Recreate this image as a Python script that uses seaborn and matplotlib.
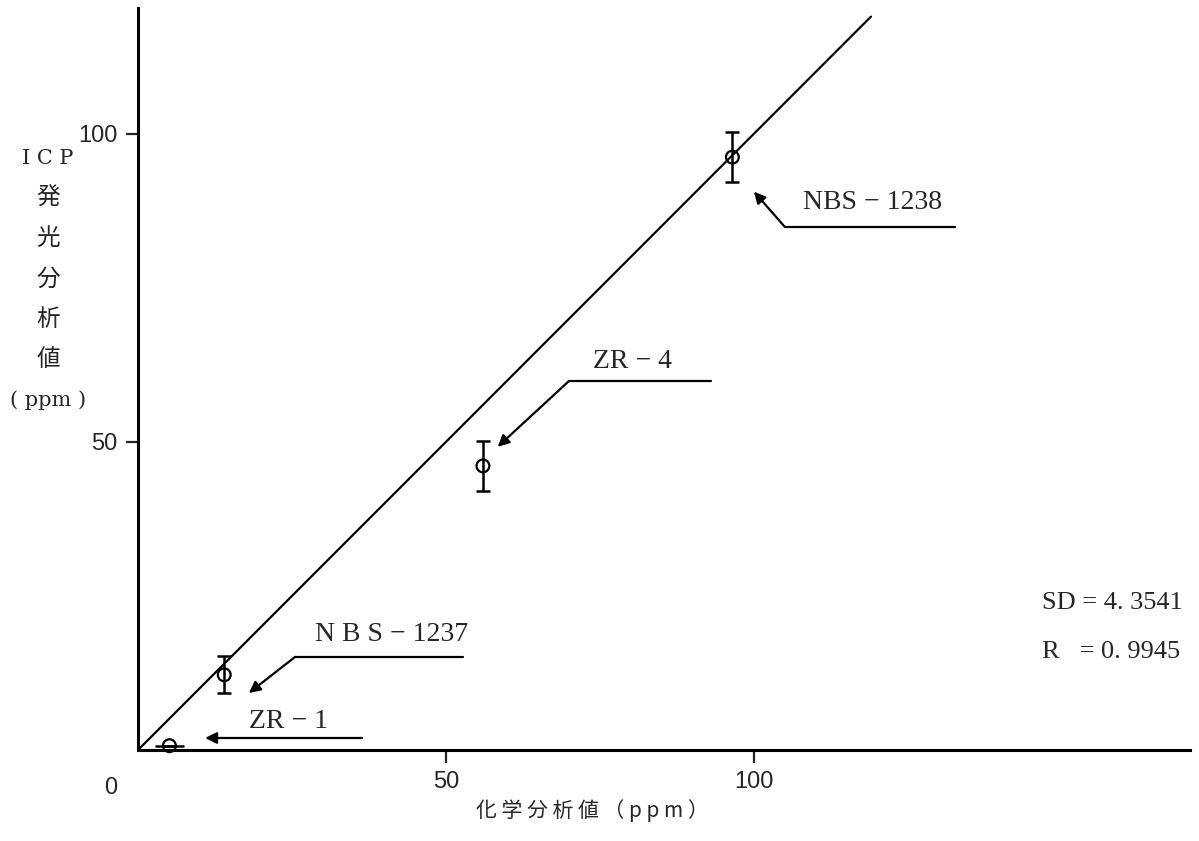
import matplotlib
matplotlib.use("Agg")
import matplotlib.pyplot as plt
import seaborn as sns
import numpy as np

# ---- data ----
samples = ["ZR − 1", "N B S − 1237", "ZR − 4", "NBS − 1238"]
chem_ppm = [5.1, 14.0, 56.0, 96.5]          # 化学分析値
icp_ppm = [0.7, 12.2, 46.1, 96.2]           # ICP発光分析値
icp_err = [0.0, 3.0, 4.1, 4.05]
chem_err = [2.3, 0.0, 0.0, 0.0]
fit_x = [0.0, 119.0]
fit_y = [0.0, 119.0]
x_ticks = [50, 100]
y_ticks = [50, 100]
stats_lines = ["SD = 4. 3541", "R   = 0. 9945"]

sns.set_style("white")
plt.rcParams["font.family"] = ["DejaVu Serif", "Noto Sans CJK JP", "DejaVu Sans"]

fig = plt.figure(figsize=(11.99, 8.41), dpi=100)
ax = fig.add_axes([0.1151, 0.1082, 0.8774, 0.8823])

sns.lineplot(x=fit_x, y=fit_y, color="black", lw=1.6, ax=ax)
ax.errorbar(chem_ppm, icp_ppm, yerr=icp_err, fmt="none", ecolor="black",
            elinewidth=1.8, capsize=4.8, capthick=1.8, clip_on=False, zorder=3)
ax.errorbar(chem_ppm, icp_ppm, xerr=chem_err, fmt="none", ecolor="black",
            elinewidth=1.8, capsize=0, clip_on=False, zorder=3)
sns.scatterplot(x=chem_ppm, y=icp_ppm, marker="o", s=85, facecolors="none",
                edgecolors="black", linewidth=1.6, ax=ax, zorder=4, clip_on=False)

ax.set_xlim(0, 170.8)
ax.set_ylim(0, 120.4)
ax.set_xticks(x_ticks)
ax.set_yticks(y_ticks)
ax.set_xticklabels([str(t) for t in x_ticks], family="Liberation Sans", fontsize=17)
ax.set_yticklabels([str(t) for t in y_ticks], family="Liberation Sans", fontsize=17)
ax.tick_params(axis="both", direction="out", length=9, width=1.6, pad=6,
               bottom=True, left=True)
for s in ["top", "right"]:
    ax.spines[s].set_visible(False)
for s in ["left", "bottom"]:
    ax.spines[s].set_linewidth(2.2)
    ax.spines[s].set_color("black")
ax.set_xlabel("")
ax.set_ylabel("")

# origin label
ax.text(-4.5, -6.2, "0", ha="center", va="center", fontsize=17,
        family="Liberation Sans", clip_on=False)

serif = ["Liberation Serif", "Noto Sans CJK JP"]

# annotations: text_xy, leader_start, leader_end, tip
ann = [
    ((24.5, 4.7), (36.4, 1.95), (36.4, 1.95), (10.9, 1.95)),
    ((41.2, 18.7), (25.5, 15.1), (52.8, 15.1), (18.0, 9.25)),
    ((80.2, 63.0), (70.0, 59.9), (93.0, 59.9), (58.4, 49.2)),
    ((119.2, 88.8), (105.0, 84.9), (132.6, 84.9), (100.0, 90.6)),
]
for lab, (txy, ls, le, tip) in zip(samples, ann):
    ax.text(txy[0], txy[1], lab, ha="center", va="center", fontsize=20,
            family=serif)
    if ls != le:
        ax.plot([ls[0], le[0]], [ls[1], le[1]], color="black", lw=1.6)
    ax.annotate("", xy=tip, xytext=ls,
                arrowprops=dict(arrowstyle="-|>", color="black", lw=1.6,
                                mutation_scale=17, shrinkA=0, shrinkB=0))

# statistics text
ax.text(146.8, 23.9, stats_lines[0], ha="left", va="center", fontsize=19,
        family=serif)
ax.text(146.8, 15.9, stats_lines[1], ha="left", va="center", fontsize=19,
        family=serif)

# axis titles
fig.text(592 / 1199, 1 - 811 / 841, "化 学 分 析 値 （ p p m ）", ha="center", va="center",
         fontsize=15, family=["Noto Sans CJK JP", "DejaVu Sans"])
ylab = ["I C P", "発", "光", "分", "析", "値", "( ppm )"]
for i, t in enumerate(ylab):
    fig.text(48 / 1199, 1 - (158 + i * 40.3) / 841, t, ha="center", va="center",
             fontsize=15 if i == 0 or i == 6 else 17,
             family=["DejaVu Serif", "Noto Sans CJK JP"])

fig.savefig("out.png", dpi=100)
